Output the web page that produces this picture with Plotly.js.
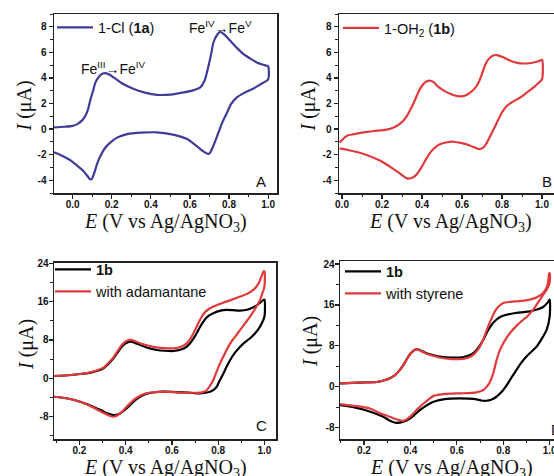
<!DOCTYPE html>
<html>
<head>
<meta charset="utf-8">
<script src="https://cdn.plot.ly/plotly-3.0.1.min.js"></script>
<style>
html,body{margin:0;padding:0;overflow:hidden;background:#fff;}
#chart{width:575px;height:476px;}
</style>
</head>
<body>
<div id="chart"></div>
<script>
// ---------- Panel A: 1-Cl (1a) ----------
const aE = [-0.095,-0.04,0.0,0.024,0.05,0.066,0.08,0.092,0.105,0.117,0.135,0.155,0.168,0.19,0.21,0.25,0.313,0.37,0.432,0.5,0.568,0.62,0.653,0.675,0.695,0.71,0.72,0.74,0.755,0.775,0.806,0.84,0.874,0.91,0.942,0.97,0.993,1.0,
  1.0,0.96,0.925,0.88,0.84,0.81,0.79,0.765,0.746,0.72,0.705,0.695,0.68,0.653,0.62,0.585,0.52,0.432,0.35,0.279,0.23,0.194,0.165,0.143,0.128,0.117,0.107,0.098,0.088,0.075,0.05,0.024,-0.005,-0.036,-0.065,-0.095];
const aI = [0.13,0.18,0.25,0.39,0.7,1.04,1.6,2.35,3.0,3.65,4.1,4.35,4.38,4.25,4.04,3.6,3.13,2.85,2.68,2.7,2.87,3.05,3.26,3.8,4.95,6.0,6.77,7.4,7.6,7.4,6.9,6.35,5.86,5.5,5.21,5.05,4.95,4.9,
  3.9,3.5,3.18,2.85,2.48,1.95,1.3,0.5,-0.26,-1.3,-1.8,-1.95,-1.85,-1.56,-1.15,-0.78,-0.45,-0.26,-0.28,-0.39,-0.65,-1.04,-1.5,-2.09,-2.6,-3.13,-3.6,-3.91,-3.9,-3.65,-3.2,-2.87,-2.5,-2.22,-2.0,-1.82];

// ---------- Panel B: 1-OH2 (1b) ----------
const bE = [-0.012,0.025,0.06,0.108,0.16,0.208,0.245,0.275,0.3,0.325,0.345,0.367,0.385,0.4,0.42,0.442,0.46,0.475,0.5,0.525,0.56,0.592,0.62,0.642,0.665,0.683,0.695,0.708,0.72,0.733,0.755,0.775,0.8,0.842,0.875,0.908,0.935,0.958,0.985,1.0,
  1.0,0.978,0.958,0.925,0.892,0.855,0.825,0.8,0.783,0.765,0.75,0.725,0.71,0.688,0.665,0.642,0.6,0.558,0.52,0.492,0.465,0.442,0.415,0.392,0.37,0.345,0.325,0.3,0.258,0.192,0.108,0.025,-0.012];
const bI = [-1.04,-0.52,-0.4,-0.26,-0.15,-0.08,0.05,0.26,0.55,1.04,1.6,2.35,3.0,3.39,3.7,3.78,3.65,3.39,3.1,2.87,2.65,2.56,2.65,2.87,3.2,3.65,4.1,4.69,5.15,5.47,5.75,5.79,5.65,5.34,5.18,5.13,5.15,5.21,5.32,5.42,
  3.9,3.55,3.26,2.87,2.48,2.15,1.82,1.3,0.78,0.2,-0.26,-1.04,-1.4,-1.56,-1.45,-1.3,-1.1,-0.99,-1.05,-1.17,-1.45,-1.82,-2.5,-3.13,-3.6,-3.85,-3.86,-3.6,-3.13,-2.48,-1.95,-1.62,-1.51];

// ---------- Panel C: 1b vs with adamantane ----------
const cE1 = [0.09,0.15,0.203,0.25,0.304,0.325,0.347,0.365,0.383,0.4,0.419,0.44,0.462,0.5,0.534,0.57,0.606,0.64,0.664,0.685,0.707,0.72,0.736,0.755,0.779,0.81,0.837,0.865,0.895,0.925,0.952,0.975,0.996,1.0,
  1.0,0.981,0.96,0.938,0.915,0.895,0.872,0.852,0.835,0.823,0.805,0.794,0.78,0.765,0.745,0.722,0.69,0.65,0.6,0.563,0.52,0.49,0.462,0.44,0.419,0.395,0.376,0.36,0.347,0.32,0.3,0.275,0.24,0.203,0.15,0.09];
const cI1 = [0.49,0.65,0.9,1.2,2.09,3.0,4.17,5.4,6.6,7.3,7.65,7.4,6.96,6.3,5.91,5.75,5.7,6.0,6.6,7.7,9.39,10.6,11.83,12.9,13.57,14.1,14.26,14.2,14.12,14.3,14.82,15.5,16.35,16.4,
  12.87,10.78,9.4,8.35,7.5,6.6,5.3,3.83,2.3,1.04,-0.6,-1.74,-2.4,-2.78,-3.0,-3.13,-3.05,-2.92,-2.8,-2.78,-2.95,-3.2,-3.83,-4.6,-5.57,-6.6,-7.3,-7.6,-7.65,-7.3,-6.8,-6.26,-5.5,-4.87,-4.2,-3.83];
const cE2 = [0.09,0.15,0.203,0.25,0.304,0.325,0.347,0.365,0.383,0.4,0.419,0.44,0.462,0.5,0.534,0.57,0.606,0.64,0.664,0.683,0.7,0.715,0.729,0.745,0.765,0.795,0.823,0.86,0.895,0.925,0.952,0.975,0.996,1.0,
  1.0,0.99,0.981,0.96,0.938,0.915,0.895,0.872,0.852,0.83,0.808,0.79,0.779,0.765,0.751,0.735,0.722,0.69,0.65,0.6,0.563,0.52,0.49,0.462,0.44,0.419,0.395,0.376,0.36,0.347,0.33,0.3,0.275,0.24,0.203,0.15,0.09];
const cI2 = [0.49,0.65,0.9,1.3,2.23,3.2,4.38,5.7,6.96,7.7,8.0,7.8,7.3,6.8,6.47,6.3,6.26,6.6,7.3,8.5,10.09,11.6,12.87,13.9,14.61,15.3,15.79,16.4,17.04,17.6,18.43,19.8,22.26,22.3,
  19.13,17.6,16.35,14.5,12.87,11.4,10.09,8.6,7.3,5.3,3.13,1.0,-0.35,-1.5,-2.43,-2.85,-2.99,-3.0,-2.99,-2.85,-2.78,-2.9,-3.1,-3.62,-4.3,-5.22,-6.4,-7.3,-7.85,-8.0,-7.8,-7.1,-6.47,-5.6,-4.87,-4.2,-3.83];

// ---------- Panel D: 1b vs with styrene ----------
const dE1 = [0.097,0.18,0.255,0.285,0.312,0.335,0.355,0.375,0.391,0.41,0.427,0.445,0.47,0.505,0.542,0.58,0.613,0.645,0.671,0.695,0.714,0.733,0.75,0.77,0.793,0.825,0.857,0.89,0.915,0.945,0.972,0.99,1.0,
  1.0,0.987,0.965,0.944,0.92,0.9,0.878,0.857,0.843,0.829,0.815,0.8,0.785,0.771,0.75,0.728,0.705,0.685,0.65,0.613,0.575,0.542,0.51,0.484,0.462,0.441,0.42,0.398,0.37,0.341,0.31,0.283,0.24,0.197,0.15,0.097];
const dI1 = [0.66,0.8,0.92,1.2,1.64,2.3,3.28,4.6,5.9,6.9,7.34,7.1,6.56,6.1,5.77,5.7,5.7,6.0,6.56,7.8,9.18,10.9,12.13,13.1,13.77,14.2,14.43,14.6,14.75,15.1,15.6,16.4,17.05,
  13.77,11.15,9.3,7.87,6.8,5.9,4.7,3.28,2.3,1.31,0.3,-0.66,-1.4,-1.97,-2.5,-2.75,-2.7,-2.49,-2.35,-2.3,-2.35,-2.49,-2.8,-3.28,-3.9,-4.59,-5.4,-6.23,-6.85,-7.08,-6.6,-5.9,-5.1,-4.46,-3.95,-3.61];
const dE2 = [0.097,0.18,0.255,0.285,0.312,0.335,0.355,0.375,0.391,0.41,0.424,0.445,0.47,0.505,0.542,0.58,0.613,0.645,0.671,0.69,0.707,0.72,0.735,0.75,0.764,0.78,0.8,0.83,0.857,0.89,0.915,0.945,0.972,0.99,0.998,1.0,
  1.0,0.987,0.972,0.958,0.929,0.9,0.886,0.857,0.829,0.805,0.786,0.77,0.757,0.74,0.725,0.714,0.685,0.65,0.613,0.542,0.5,0.484,0.462,0.441,0.42,0.398,0.38,0.369,0.35,0.312,0.27,0.226,0.15,0.097];
const dI2 = [0.66,0.8,0.92,1.2,1.64,2.3,3.28,4.6,5.9,6.9,7.34,7.0,6.43,5.95,5.57,5.4,5.38,5.6,6.23,7.2,8.52,10.0,11.8,13.4,14.75,15.7,16.39,16.6,16.72,16.85,17.05,17.5,18.36,19.8,22.16,22.2,
  20.33,19.0,18.0,17.05,15.08,13.6,13.1,11.9,10.5,8.9,7.2,5.0,2.6,0.7,-0.2,-0.66,-1.1,-1.25,-1.31,-1.44,-1.8,-2.3,-3.1,-3.93,-4.9,-5.9,-6.5,-6.69,-6.5,-5.9,-5.2,-4.26,-3.7,-3.41];

// ---------- Tick labels ----------
const abXTicks = [0.0,0.2,0.4,0.6,0.8,1.0];
const abXText  = ["0.0","0.2","0.4","0.6","0.8","1.0"];
const abYTicks = [-4,-2,0,2,4,6,8];
const abYText  = ["-4","-2","0","2","4","6","8"];
const cdXTicks = [0.2,0.4,0.6,0.8,1.0];
const cdXText  = ["0.2","0.4","0.6","0.8","1.0"];
const cdYTicks = [-8,0,8,16,24];
const cdYText  = ["-8","0","8","16","24"];

const names = {
  a: "1-Cl (<b>1a</b>)",
  b: "1-OH<sub>2</sub> (<b>1b</b>)",
  c1: "<b>1b</b>", c2: "with adamantane",
  d1: "<b>1b</b>", d2: "with styrene"
};
const xTitle = "<i>E</i> (V vs Ag/AgNO<sub>3</sub>)";
const yTitle = "<i>I</i> (μA)";

const BLUE = "#3f3c99", RED = "#e03a3c", BLACK = "#000000";
const W = 575, H = 476;
function dx(a,b){return [a/W, b/W];}
function dy(top,bot){return [1-bot/H, 1-top/H];}

const lw = 2.2;
function tr(x,y,xa,ya,name,color,leg){
  return {x:x,y:y,xaxis:xa,yaxis:ya,name:name,type:"scatter",mode:"lines",
    line:{color:color,width:lw,shape:"spline",smoothing:0.7},legend:leg,showlegend:true};
}
const data = [
  tr(aE,aI,"x","y",names.a,BLUE,"legend"),
  tr(bE,bI,"x2","y2",names.b,RED,"legend2"),
  tr(cE1,cI1,"x3","y3",names.c1,BLACK,"legend3"),
  tr(cE2,cI2,"x3","y3",names.c2,RED,"legend3"),
  tr(dE1,dI1,"x4","y4",names.d1,BLACK,"legend4"),
  tr(dE2,dI2,"x4","y4",names.d2,RED,"legend4")
];

const tickFont = {family:"Liberation Sans, Arial, sans-serif",size:10,color:"#111",weight:"bold"};
const titleFont = {family:"Liberation Serif, Times New Roman, serif",size:20,color:"#111"};

function common(minorD){
  return {ticks:"outside",ticklen:4,tickwidth:1.3,tickcolor:"#222",showline:true,linecolor:"#222",linewidth:1.5,
    mirror:true,showgrid:false,zeroline:false,tickfont:tickFont,tickmode:"array",
    minor:{tickmode:"linear",tick0:0,dtick:minorD,ticks:"outside",ticklen:2.5,tickwidth:1,tickcolor:"#222"}};
}
function xax(domain,range,tv,tt,anchor,minorD){
  return Object.assign(common(minorD),{domain:domain,range:range,anchor:anchor,tickvals:tv,ticktext:tt,ticklabelstandoff:-3});
}
function yax(domain,range,tv,tt,anchor,minorD,so){
  return Object.assign(common(minorD),{domain:domain,range:range,anchor:anchor,tickvals:tv,ticktext:tt,ticklabelstandoff:so});
}

const legFont = {family:"Liberation Sans, Arial, sans-serif",size:14.5,color:"#111"};
function leg(xpx,ypx){
  return {x:xpx/W,y:1-ypx/H,xanchor:"left",yanchor:"middle",bgcolor:"rgba(0,0,0,0)",borderwidth:0,
    font:legFont,tracegroupgap:0,itemwidth:36};
}
const annFont = {family:"Liberation Sans, Arial, sans-serif",size:14,color:"#111"};
function xt(cx,cy){return {xref:"paper",yref:"paper",x:cx/W,y:1-cy/H,xanchor:"center",yanchor:"middle",text:xTitle,showarrow:false,font:titleFont};}
function yt(cx,cy){return {xref:"paper",yref:"paper",x:cx/W,y:1-cy/H,xanchor:"center",yanchor:"middle",text:yTitle,textangle:-90,showarrow:false,font:titleFont};}

const layout = {
  width:W,height:H,margin:{l:0,r:0,t:0,b:0},paper_bgcolor:"#fff",plot_bgcolor:"#fff",
  xaxis: xax(dx(54,277),[-0.095,1.045],abXTicks,abXText,"y",0.1),
  yaxis: yax(dy(14,193),[-5,9],abYTicks,abYText,"x",1,0),
  xaxis2: xax(dx(339,562),[-0.015,1.1],abXTicks,abXText,"y2",0.1),
  yaxis2: yax(dy(14,193),[-5,9],abYTicks,abYText,"x2",1,0),
  xaxis3: xax(dx(54,276),[0.09,1.05],cdXTicks,cdXText,"y3",0.1),
  yaxis3: yax(dy(262.7,439.3),[-12.7,24.1],cdYTicks,cdYText,"x3",4,-2),
  xaxis4: xax(dx(340,562),[0.097,1.053],cdXTicks,cdXText,"y4",0.1),
  yaxis4: yax(dy(261,439.3),[-10.3,24.6],cdYTicks,cdYText,"x4",4,-2),
  legend: leg(52,27.5),
  legend2: leg(338,28),
  legend3: leg(50,280.5),
  legend4: leg(340,282.5),
  annotations:[
    xt(165.5,222), xt(450.5,222), xt(165,468), xt(451,468),
    yt(23.5,106), yt(307.5,106), yt(26,345), yt(310,342),
    {xref:"x",yref:"y",x:0.209,y:4.74,text:"Fe<sup>III</sup>→Fe<sup>IV</sup>",showarrow:false,font:annFont},
    {xref:"x",yref:"y",x:0.757,y:7.98,text:"Fe<sup>IV</sup>→Fe<sup>V</sup>",showarrow:false,font:annFont},
    {xref:"x",yref:"y",x:0.961,y:-4.1,text:"A",showarrow:false,font:{...annFont,size:15}},
    {xref:"x2",yref:"y2",x:1.027,y:-4.1,text:"B",showarrow:false,font:{...annFont,size:15}},
    {xref:"x3",yref:"y3",x:0.989,y:-9.75,text:"C",showarrow:false,font:{...annFont,size:15}},
    {xref:"x4",yref:"y4",x:1.03,y:-8.47,text:"D",showarrow:false,font:{...annFont,size:15}}
  ]
};
Plotly.newPlot("chart",data,layout,{staticPlot:true,displayModeBar:false});
</script>
</body>
</html>
